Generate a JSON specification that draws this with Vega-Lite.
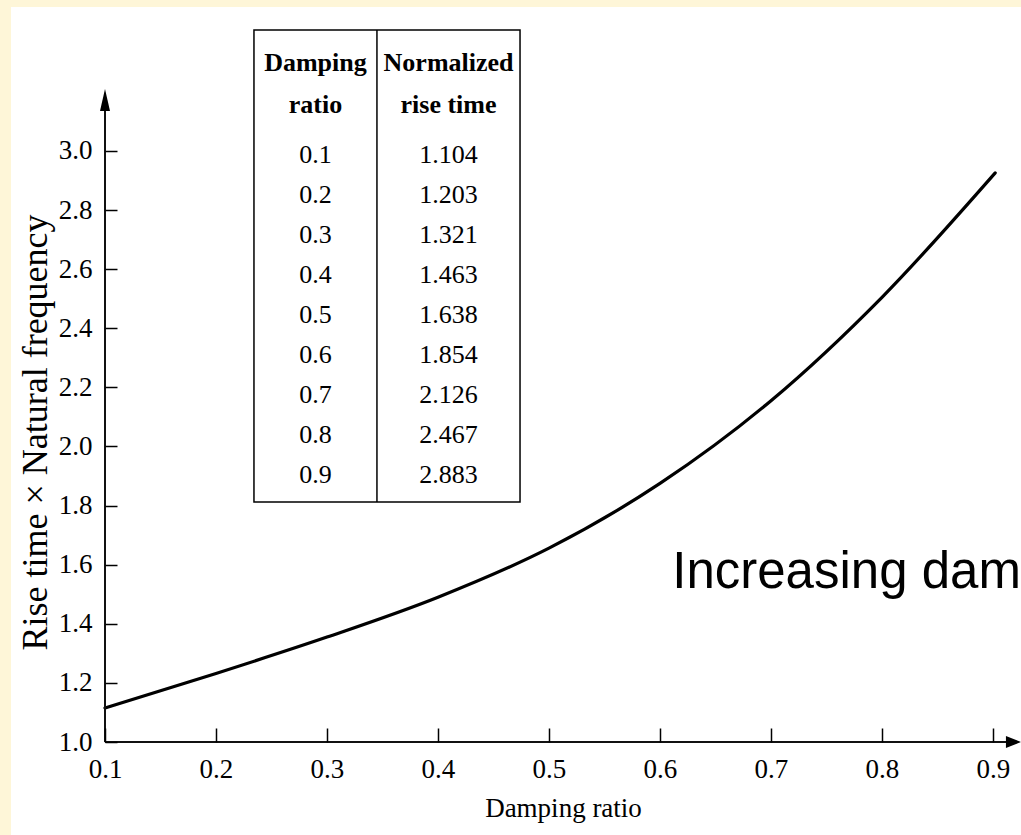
{
  "$schema": "https://vega.github.io/schema/vega-lite/v6.json",
  "width": 916,
  "height": 735,
  "autosize": {"type": "none"},
  "padding": {"left": 105, "top": 7, "right": 0, "bottom": 93},
  "background": "#ffffff",
  "config": {"view": {"stroke": null}},
  "datasets": {
    "curve": [
      {"ratio": 0.1, "value": 1.115},
      {"ratio": 0.2, "value": 1.232},
      {"ratio": 0.3, "value": 1.355},
      {"ratio": 0.4, "value": 1.49},
      {"ratio": 0.5, "value": 1.656},
      {"ratio": 0.6, "value": 1.875},
      {"ratio": 0.7, "value": 2.155},
      {"ratio": 0.8, "value": 2.505},
      {"ratio": 0.902, "value": 2.926}
    ],
    "table": [
      {"row": 0, "ratio": "0.1", "rise": "1.104"},
      {"row": 1, "ratio": "0.2", "rise": "1.203"},
      {"row": 2, "ratio": "0.3", "rise": "1.321"},
      {"row": 3, "ratio": "0.4", "rise": "1.463"},
      {"row": 4, "ratio": "0.5", "rise": "1.638"},
      {"row": 5, "ratio": "0.6", "rise": "1.854"},
      {"row": 6, "ratio": "0.7", "rise": "2.126"},
      {"row": 7, "ratio": "0.8", "rise": "2.467"},
      {"row": 8, "ratio": "0.9", "rise": "2.883"}
    ]
  },
  "layer": [
    {
      "layer": [
        {
          "data": {"name": "curve"},
          "mark": {"type": "line", "color": "#000000", "strokeWidth": 3.2, "interpolate": "monotone", "strokeCap": "round"},
          "encoding": {
            "x": {
              "field": "ratio", "type": "quantitative",
              "scale": {"domain": [0.1, 0.92523], "nice": false, "zero": false},
              "axis": {
                "title": "Damping ratio",
                "values": [0.1, 0.2, 0.3, 0.4, 0.5, 0.6, 0.7, 0.8, 0.9],
                "format": ".1f",
                "domain": false, "grid": false,
                "tickSize": -14, "tickWidth": 1.5, "tickColor": "#000000",
                "labelFont": "Liberation Serif", "labelFontSize": 27, "labelColor": "#000000",
                "labelPadding": 28, "labelFlush": false, "labelOverlap": false,
                "titleFont": "Liberation Serif", "titleFontSize": 27, "titleFontWeight": "normal", "titleColor": "#000000",
                "titlePadding": 13, "zindex": 1
              }
            },
            "y": {
              "field": "value", "type": "quantitative",
              "scale": {"domain": [1.0, 3.4873], "nice": false, "zero": false},
              "axis": {
                "title": "Rise time × Natural frequency",
                "values": [1.0, 1.2, 1.4, 1.6, 1.8, 2.0, 2.2, 2.4, 2.6, 2.8, 3.0],
                "format": ".1f",
                "domain": false, "grid": false,
                "tickSize": -12, "tickWidth": 1.5, "tickColor": "#000000",
                "labelFont": "Liberation Serif", "labelFontSize": 27, "labelColor": "#000000",
                "labelPadding": 25, "labelOverlap": false,
                "titleFont": "Liberation Serif", "titleFontSize": 36, "titleFontWeight": "normal", "titleColor": "#000000",
                "titlePadding": 4, "titleY": 425, "zindex": 1
              }
            }
          }
        },
        {
          "data": {"values": [{}]},
          "mark": {"type": "rect", "fill": "#FEF6D8", "stroke": null},
          "encoding": {
            "x": {"datum": -0.5, "type": "quantitative", "scale": {"domain": [0.1, 0.92523], "nice": false, "zero": false}},
            "x2": {"datum": 0.0153},
            "y": {"datum": 0.5, "type": "quantitative", "scale": {"domain": [1.0, 3.4873], "nice": false, "zero": false}},
            "y2": {"datum": 3.7}
          }
        },
        {
          "data": {"values": [{}]},
          "mark": {"type": "rect", "fill": "#FEF6D8", "stroke": null},
          "encoding": {
            "x": {"datum": -0.5, "type": "quantitative", "scale": {"domain": [0.1, 0.92523], "nice": false, "zero": false}},
            "x2": {"datum": 1.2},
            "y": {"datum": 3.4873, "type": "quantitative", "scale": {"domain": [1.0, 3.4873], "nice": false, "zero": false}},
            "y2": {"datum": 3.7}
          }
        },
        {
          "data": {"values": [{}]},
          "mark": {"type": "rule", "color": "#111111", "strokeWidth": 2},
          "encoding": {
            "x": {"datum": 0.1, "type": "quantitative", "scale": {"domain": [0.1, 0.92523], "nice": false, "zero": false}},
            "y": {"datum": 1.0, "type": "quantitative", "scale": {"domain": [1.0, 3.4873], "nice": false, "zero": false}},
            "y2": {"datum": 3.16}
          }
        },
        {
          "data": {"values": [{}]},
          "mark": {"type": "rule", "color": "#111111", "strokeWidth": 2},
          "encoding": {
            "x": {"datum": 0.1, "type": "quantitative", "scale": {"domain": [0.1, 0.92523], "nice": false, "zero": false}},
            "x2": {"datum": 0.915},
            "y": {"datum": 1.0, "type": "quantitative", "scale": {"domain": [1.0, 3.4873], "nice": false, "zero": false}}
          }
        },
        {
          "data": {"values": [{}]},
          "mark": {"type": "point", "shape": "M0,0L-1,4.4L1,4.4Z", "size": 100, "filled": true, "color": "#000000", "opacity": 1, "strokeWidth": 0},
          "encoding": {
            "x": {"datum": 0.1, "type": "quantitative", "scale": {"domain": [0.1, 0.92523], "nice": false, "zero": false}},
            "y": {"datum": 3.2098, "type": "quantitative", "scale": {"domain": [1.0, 3.4873], "nice": false, "zero": false}}
          }
        },
        {
          "data": {"values": [{}]},
          "mark": {"type": "point", "shape": "M0,0L-2.5,-1L-2.5,1Z", "size": 144, "filled": true, "color": "#000000", "opacity": 1, "strokeWidth": 0},
          "encoding": {
            "x": {"datum": 0.9252, "type": "quantitative", "scale": {"domain": [0.1, 0.92523], "nice": false, "zero": false}},
            "y": {"datum": 1.0, "type": "quantitative", "scale": {"domain": [1.0, 3.4873], "nice": false, "zero": false}}
          }
        },
        {
          "data": {"values": [{}]},
          "mark": {"type": "text", "text": "Increasing damping", "font": "Liberation Sans", "fontSize": 51, "align": "left", "baseline": "alphabetic", "color": "#000000", "clip": true},
          "encoding": {
            "x": {"datum": 0.611, "type": "quantitative", "scale": {"domain": [0.1, 0.92523], "nice": false, "zero": false}},
            "y": {"datum": 1.5212, "type": "quantitative", "scale": {"domain": [1.0, 3.4873], "nice": false, "zero": false}}
          }
        },
        {
          "data": {"values": [{}]},
          "mark": {"type": "rect", "fill": "#ffffff", "stroke": "#000000", "strokeWidth": 1.5},
          "encoding": {
            "x": {"datum": 0.2342, "type": "quantitative", "scale": {"domain": [0.1, 0.92523], "nice": false, "zero": false}},
            "x2": {"datum": 0.4739},
            "y": {"datum": 1.812, "type": "quantitative", "scale": {"domain": [1.0, 3.4873], "nice": false, "zero": false}},
            "y2": {"datum": 3.4095}
          }
        },
        {
          "data": {"values": [{}]},
          "mark": {"type": "rule", "color": "#000000", "strokeWidth": 1.5},
          "encoding": {
            "x": {"datum": 0.345, "type": "quantitative", "scale": {"domain": [0.1, 0.92523], "nice": false, "zero": false}},
            "y": {"datum": 1.812, "type": "quantitative", "scale": {"domain": [1.0, 3.4873], "nice": false, "zero": false}},
            "y2": {"datum": 3.4095}
          }
        }
      ]
    },
    {
      "layer": [
        {
          "data": {"name": "table"},
          "mark": {"type": "text", "font": "Liberation Serif", "fontSize": 26, "align": "center", "baseline": "middle", "color": "#000000"},
          "encoding": {
            "x": {"datum": 0.2896, "type": "quantitative", "scale": {"domain": [0.1, 0.92523], "nice": false, "zero": false}},
            "y": {"field": "row", "type": "quantitative", "scale": {"domain": [-3.7, 14.675], "reverse": true, "nice": false, "zero": false}, "axis": null},
            "text": {"field": "ratio"}
          }
        },
        {
          "data": {"name": "table"},
          "mark": {"type": "text", "font": "Liberation Serif", "fontSize": 26, "align": "center", "baseline": "middle", "color": "#000000"},
          "encoding": {
            "x": {"datum": 0.4095, "type": "quantitative", "scale": {"domain": [0.1, 0.92523], "nice": false, "zero": false}},
            "y": {"field": "row", "type": "quantitative", "scale": {"domain": [-3.7, 14.675], "reverse": true, "nice": false, "zero": false}, "axis": null},
            "text": {"field": "rise"}
          }
        },
        {
          "data": {"values": [{}]},
          "mark": {"type": "text", "text": ["Damping", "ratio"], "lineHeight": 42, "font": "Liberation Serif", "fontSize": 26, "fontWeight": "bold", "align": "center", "baseline": "middle", "color": "#000000"},
          "encoding": {
            "x": {"datum": 0.2896, "type": "quantitative", "scale": {"domain": [0.1, 0.92523], "nice": false, "zero": false}},
            "y": {"datum": -2.3, "type": "quantitative", "scale": {"domain": [-3.7, 14.675], "reverse": true, "nice": false, "zero": false}, "axis": null}
          }
        },
        {
          "data": {"values": [{}]},
          "mark": {"type": "text", "text": ["Normalized", "rise time"], "lineHeight": 42, "font": "Liberation Serif", "fontSize": 26, "fontWeight": "bold", "align": "center", "baseline": "middle", "color": "#000000"},
          "encoding": {
            "x": {"datum": 0.4095, "type": "quantitative", "scale": {"domain": [0.1, 0.92523], "nice": false, "zero": false}},
            "y": {"datum": -2.3, "type": "quantitative", "scale": {"domain": [-3.7, 14.675], "reverse": true, "nice": false, "zero": false}, "axis": null}
          }
        }
      ]
    }
  ],
  "resolve": {"scale": {"y": "independent"}}
}
